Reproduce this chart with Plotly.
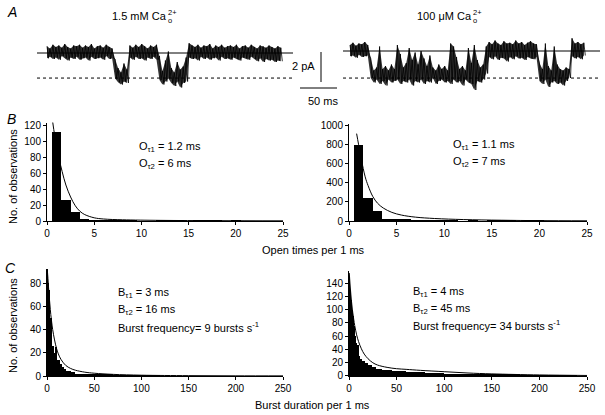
import plotly.graph_objects as go

W, H = 605, 415
FONT = "Liberation Sans, Arial, sans-serif"

# ---------------- data ----------------
# Panel A: single-channel current envelopes (pA, relative to closed level), 4-ms samples
left_hi = [0.45,0.3,0.55,0.4,0.5,0.35,0.6,0.4,0.3,0.5,0.45,0.55,0.35,0.5,0.4,0.6,0.3,0.45,0.5,0.35,0.55,0.4,0.3,
           -0.4,-1.0,-1.3,-0.7,-1.1,
           0.5,0.35,0.55,0.4,0.6,0.45,0.3,0.5,0.4,0.55,
           -0.2,-1.2,-0.5,0.1,-1.0,-1.3,-0.6,-1.1,-0.9,-0.3,
           0.65,0.5,0.4,0.55,0.35,0.5,0.45,0.6,0.3,0.5,0.4,0.55,0.35,0.45,0.5,0.4,0.55,0.3,0.45,0.5,0.35,0.55,0.4,0.3,0.5,0.45,0.35,0.5,0.4,0.3,0.45,0.35]
left_lo = [-0.35,-0.25,-0.4,-0.3,-0.45,-0.2,-0.35,-0.5,-0.3,-0.4,-0.25,-0.45,-0.35,-0.3,-0.5,-0.25,-0.4,-0.35,-0.3,-0.45,-0.2,-0.4,-0.35,
           -1.7,-1.95,-2.1,-1.9,-2.0,
           -0.3,-0.45,-0.25,-0.4,-0.35,-0.5,-0.3,-0.4,-0.25,-0.45,
           -1.8,-2.1,-1.9,-1.7,-2.0,-2.2,-1.9,-2.3,-2.0,-1.9,
           -0.3,-0.4,-0.35,-0.5,-0.25,-0.4,-0.3,-0.45,-0.35,-0.3,-0.5,-0.25,-0.4,-0.35,-0.45,-0.3,-0.4,-0.5,-0.3,-0.35,-0.45,-0.25,-0.4,-0.55,-0.35,-0.6,-0.4,-0.5,-0.45,-0.6,-0.5,-0.55]
right_hi = [0.4,0.55,0.35,0.5,0.45,0.6,0.4,
            -0.5,-1.3,-1.1,0.3,-1.2,-1.0,-1.3,-0.9,-1.2,0.4,
            -0.2,-1.1,-0.8,0.2,-0.6,-0.1,-0.9,0.0,-0.5,-1.0,
            -0.3,-1.1,-1.3,-0.9,-1.2,-1.0,-1.3,0.5,0.3,-0.4,
            -1.2,-1.0,-1.3,0.2,-0.8,0.4,-0.6,-1.1,-0.9,0.3,
            0.6,0.45,0.7,0.5,0.4,0.65,0.5,0.55,0.45,0.7,0.5,0.6,0.4,0.55,0.65,0.5,0.45,
            -0.8,-1.2,0.5,-1.0,-1.3,0.3,-0.9,-1.2,-1.3,-1.1,-1.2,
            0.85,0.5,0.6,0.45,0.55]
right_lo = [-0.35,-0.3,-0.45,-0.25,-0.4,-0.35,-0.3,
            -1.8,-2.1,-1.9,-2.2,-2.0,-2.3,-1.9,-2.1,-2.0,-1.9,
            -2.2,-2.0,-2.1,-1.9,-2.3,-2.0,-2.1,-1.9,-2.2,-2.0,
            -2.1,-1.8,-2.2,-2.0,-1.9,-2.1,-2.0,-2.2,-1.9,-2.1,
            -2.0,-2.3,-1.9,-2.1,-2.2,-2.6,-2.0,-2.1,-1.9,-1.5,
            -0.4,-0.55,-0.35,-0.6,-0.45,-0.5,-0.7,-0.4,-0.55,-0.35,-0.5,-0.45,-0.6,-0.4,-0.5,-0.55,-0.4,
            -2.0,-2.2,-1.9,-2.4,-2.1,-2.0,-2.2,-2.1,-2.3,-2.0,-1.8,
            -0.35,-0.5,-0.4,-0.55,-0.3]
sample_ms = 4
open_level = -1.67
scale_pa = 2
scale_ms = 50

# Panel B: open-time histograms (1-ms bins centred on 1..20 ms)
b_centres = list(range(1, 21))
b_left_counts = [112,27,12,3,1,1,2,1,2,0,0,2,1,2,0,1,1,1,0,2]
b_right_counts = [790,235,105,25,15,12,10,10,10,10,8,0,8,0,8,8,8,0,8,8]
b_left_fit_x = [0.6,0.8,1.0,1.3,1.6,2.0,2.5,3.0,3.5,4.0,5.0,6.0,8.0,12,18,25]
b_left_fit_y = [124,108,95,77,62,45,30,19,12,8,4,2.5,1.5,0.8,0.4,0.2]
b_right_fit_x = [0.8,1.0,1.3,1.7,2.0,2.5,3.0,3.6,4.5,5.5,7,9,12,16,20,25]
b_right_fit_y = [910,800,640,460,370,255,185,135,90,62,40,26,15,8,4,2]

# Panel C: burst-duration histograms
c_left_edges = [0,0.7,2,3,5.5,7.5,8.5,11,14,16,18,20,25,30,40,50,70,100,120]
c_left_counts = [92,80,74,50,26,20,25,14,10,8,6,4,3,2,1.5,1,0.5,0.3]
c_right_edges = [0,1,2,3,4,5,6,7,8,10,12,14,17,20,24,28,35,45,60,80,100,125,150,180,210,240]
c_right_counts = [150,130,115,100,90,75,60,50,47,30,26,22,19,16,13,10,9,7,6,5,3,2,1.5,1,0.5]
c_left_fit_x = [0.3,1,2,3,4,5,6,8,10,12,15,20,25,30,40,50,70,100,150,200,250]
c_left_fit_y = [92,84,72,62,53,46,40,31,24,19,14,9,6.5,5,3.3,2.4,1.4,0.7,0.3,0.15,0.1]
c_right_fit_x = [0.3,1,2,3,4,5,6,8,10,13,16,20,25,30,40,50,60,75,100,125,150,200,250]
c_right_fit_y = [155,140,122,107,95,85,76,62,52,41,33,26,20,16.5,13,11,10,8.5,6.5,4.5,3.2,1.6,0.8]

# ---------------- layout helpers ----------------
def fx(p): return p / W
def fy(p): return 1 - p / H

MS_PX = 0.74          # px per ms in panel A
PA_PX = 15            # px per pA in panel A
BASE_PX = 53          # closed level (left trace) in px
A_TOP, A_BOT = 25, 110

def ms(px): return px / MS_PX
def pa(py): return (BASE_PX - py) / PA_PX

fig = go.Figure()

def line(x, y, xa="x", ya="y", dash=None, width=1, color="black", shape="linear"):
    fig.add_trace(go.Scatter(x=x, y=y, mode="lines", xaxis=xa, yaxis=ya, hoverinfo="skip",
                             line=dict(color=color, width=width, dash=dash, shape=shape), showlegend=False))

def trace_a(hi, lo, t0, off=0.0):
    ts = [t0 + sample_ms * i for i in range(len(hi))]
    bx = ts + ts[::-1]
    by = [h + off for h in hi] + [l + off for l in lo][::-1]
    fig.add_trace(go.Scatter(x=bx, y=by, mode="lines", fill="toself", fillcolor="rgba(0,0,0,0.8)",
                             line=dict(width=0), hoverinfo="skip", showlegend=False))
    xs, ys = [], []
    for t, h, l in zip(ts, hi, lo):
        xs += [t, t + sample_ms / 2]
        ys += [h + off, l + off]
    line(xs, ys, width=0.8)

# baselines
line([ms(37), ms(293)], [0, 0])
line([ms(37), ms(293)], [open_level, open_level], dash="dot")
right_off = pa(51)
line([ms(343), ms(600)], [right_off, right_off])
line([ms(343), ms(600)], [open_level, open_level], dash="dot")
trace_a(left_hi, left_lo, ms(47))
trace_a(right_hi, right_lo, ms(350), right_off)
# scale bars
line([ms(321), ms(321)], [pa(82), pa(82) + scale_pa])
line([ms(300), ms(300) + scale_ms], [pa(88), pa(88)])

# histograms
def bars(centres, widths, counts, xa, ya):
    fig.add_trace(go.Bar(x=centres, y=counts, width=widths, xaxis=xa, yaxis=ya,
                         marker=dict(color="black", line=dict(width=0)), showlegend=False, hoverinfo="skip"))

bars(b_centres, [1] * len(b_centres), b_left_counts, "x2", "y2")
bars(b_centres, [1] * len(b_centres), b_right_counts, "x3", "y3")
def from_edges(e):
    return [(a + b) / 2 for a, b in zip(e[:-1], e[1:])], [b - a for a, b in zip(e[:-1], e[1:])]
cc, cw = from_edges(c_left_edges)
bars(cc, cw, c_left_counts, "x4", "y4")
cc, cw = from_edges(c_right_edges)
bars(cc, cw, c_right_counts, "x5", "y5")

line(b_left_fit_x, b_left_fit_y, "x2", "y2", shape="spline")
line(b_right_fit_x, b_right_fit_y, "x3", "y3", shape="spline")
line(c_left_fit_x, c_left_fit_y, "x4", "y4", shape="spline")
line(c_right_fit_x, c_right_fit_y, "x5", "y5", shape="spline")

tickfont = dict(family=FONT, size=10, color="black")
def ax(domain, rng, dtick, anchor, **kw):
    d = dict(domain=domain, range=rng, dtick=dtick, tick0=0, anchor=anchor, showline=True, automargin=False,
             linecolor="black", linewidth=1, ticks="outside", ticklen=3, tickwidth=1,
             tickcolor="black", showgrid=False, zeroline=False, tickfont=tickfont, fixedrange=True)
    d.update(kw)
    return d

L0, L1, R0, R1 = 47, 283, 349, 587
B_ZERO, C_ZERO = 221, 376
bl_top = 123; br_top = 1010; cl_top = 92; cr_top = 158
layout = dict(
    template="none",
    width=W, height=H, margin=dict(l=0, r=0, t=0, b=0, autoexpand=False), paper_bgcolor="white",
    plot_bgcolor="rgba(0,0,0,0)", bargap=0, barmode="overlay", showlegend=False,
    font=dict(family=FONT, color="black"),
    xaxis=dict(domain=[0, 1], range=[0, ms(W)], visible=False, fixedrange=True, automargin=False),
    yaxis=dict(domain=[fy(A_BOT), fy(A_TOP)], range=[pa(A_BOT), pa(A_TOP)], visible=False, fixedrange=True,
               automargin=False),
    xaxis2=ax([fx(L0), fx(L1)], [0, 25], 5, "y2"),
    yaxis2=ax([fy(B_ZERO), fy(B_ZERO - bl_top * 0.8)], [0, bl_top], 20, "x2"),
    xaxis3=ax([fx(R0), fx(R1)], [0, 25], 5, "y3"),
    yaxis3=ax([fy(B_ZERO), fy(B_ZERO - br_top * 0.096)], [0, br_top], 200, "x3"),
    xaxis4=ax([fx(L0), fx(L1)], [0, 250], 50, "y4"),
    yaxis4=ax([fy(C_ZERO), fy(C_ZERO - cl_top * 1.1625)], [0, cl_top], 20, "x4"),
    xaxis5=ax([fx(R0), fx(R1)], [0, 250], 50, "y5"),
    yaxis5=ax([fy(C_ZERO), fy(C_ZERO - cr_top * 0.664)], [0, cr_top], 20, "x5"),
)
fig.update_layout(**layout)

def txt(s, x, y, size=11, xanchor="left", italic=False, angle=0):
    fig.add_annotation(text=("<i>%s</i>" % s) if italic else s, x=fx(x), y=fy(y), xref="paper", yref="paper",
                       xanchor=xanchor, yanchor="middle", showarrow=False, textangle=angle, borderpad=0,
                       font=dict(family=FONT, size=size, color="black"))

txt("A", 6, 12, 14, italic=True)
txt("B", 6, 119, 14, italic=True)
txt("C", 4, 268, 14, italic=True)
txt("1.5 mM Ca", 168, 16, 11, xanchor="right")
txt("2+", 167, 12, 7.5)
txt("o", 167, 20, 7.5)
txt("100 \u03bcM Ca", 473, 16, 11, xanchor="right")
txt("2+", 472, 12, 7.5)
txt("o", 472, 20, 7.5)
txt("2 pA", 316, 66, 11, xanchor="right")
txt("50 ms", 323, 101, 11, xanchor="center")
txt("No. of observations", 13, 177, 11, xanchor="center", angle=-90)
txt("No. of observations", 13, 326, 11, xanchor="center", angle=-90)
txt("O<sub>\u03c41</sub> = 1.2 ms", 138, 147, 11)
txt("O<sub>\u03c42</sub> = 6 ms", 138, 164, 11)
txt("O<sub>\u03c41</sub> = 1.1 ms", 452, 145, 11)
txt("O<sub>\u03c42</sub> = 7 ms", 452, 162, 11)
txt("Open times per 1 ms", 313, 250, 11, xanchor="center")
txt("B<sub>\u03c41</sub> = 3 ms", 117, 293, 11)
txt("B<sub>\u03c42</sub> = 16 ms", 117, 310, 11)
txt("Burst frequency= 9 bursts s<sup>-1</sup>", 117, 327, 11)
txt("B<sub>\u03c41</sub> = 4 ms", 412, 292, 11)
txt("B<sub>\u03c42</sub> = 45 ms", 412, 309, 11)
txt("Burst frequency= 34 bursts s<sup>-1</sup>", 412, 325, 11)
txt("Burst duration per 1 ms", 312, 405, 11, xanchor="center")

fig.write_html("out.html", config={"displayModeBar": False},
               post_script="document.body.style.margin='0';document.body.style.overflow='hidden';")
